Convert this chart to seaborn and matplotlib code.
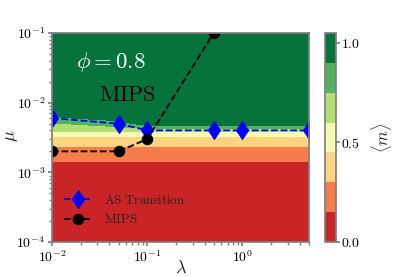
import numpy as np
import matplotlib
matplotlib.use("Agg")
import matplotlib.pyplot as plt
import matplotlib.ticker as mticker
import seaborn as sns

# grid of the order parameter <m> over (lambda, mu)
lam_grid = [0.01, 0.05, 0.1, 0.5, 1.0, 5.0]
mu_grid = [1e-4, 1e-3, 2e-3, 3e-3, 4e-3, 5e-3, 6e-3, 1e-2, 1e-1]
m_lam001 = [0.02, 0.08, 0.25, 0.40, 0.65, 0.74, 0.89, 1.0, 1.0]
m_lam005 = [0.02, 0.08, 0.25, 0.40, 0.65, 0.85, 0.95, 1.0, 1.0]
m_lam01 = [0.02, 0.08, 0.25, 0.40, 0.65, 0.98, 1.0, 1.0, 1.0]
m_lam05 = [0.02, 0.08, 0.25, 0.40, 0.65, 0.98, 1.0, 1.0, 1.0]
m_lam1 = [0.02, 0.08, 0.25, 0.40, 0.65, 0.98, 1.0, 1.0, 1.0]
m_lam5 = [0.02, 0.08, 0.25, 0.40, 0.65, 0.98, 1.0, 1.0, 1.0]

# transition lines
as_lam = [0.01, 0.05, 0.1, 0.5, 1.0, 5.0]
as_mu = [0.006, 0.005, 0.004, 0.004, 0.004, 0.004]
mips_lam = [0.01, 0.05, 0.1, 0.5]
mips_mu = [0.002, 0.002, 0.003, 0.1]

sns.set_theme(style="ticks")
plt.rcParams["mathtext.fontset"] = "cm"
plt.rcParams["font.family"] = ["DejaVu Serif"]

fig = plt.figure(figsize=(4.15, 2.77), dpi=100)
ax = fig.add_axes([0.1253, 0.1264, 0.6193, 0.7545])
cax = fig.add_axes([0.783, 0.1264, 0.0265, 0.7545])

M = np.array([m_lam001, m_lam005, m_lam01, m_lam05, m_lam1, m_lam5]).T
L, U = np.meshgrid(lam_grid, mu_grid)
levels = np.linspace(0, 1.05, 8)
cf = ax.contourf(L, U, M, levels=levels, cmap="RdYlGn", vmin=0, vmax=1.0)

sns.lineplot(x=as_lam, y=as_mu, ax=ax, color="blue", linestyle="--", lw=1.3,
             marker="d", ms=9.5, mec="blue", label=r"$\mathrm{AS\ Transition}$")
sns.lineplot(x=mips_lam, y=mips_mu, ax=ax, color="black", linestyle="--", lw=1.3,
             marker="o", ms=7.5, mec="black", label=r"$\mathrm{MIPS}$")

ax.set_xscale("log")
ax.set_yscale("log")
ax.set_xlim(0.01, 5)
ax.set_ylim(1e-4, 1e-1)

fmt = mticker.FuncFormatter(lambda v, p: r"$10^{%d}$" % round(np.log10(v)))
ax.xaxis.set_major_formatter(fmt)
ax.yaxis.set_major_formatter(fmt)
ax.tick_params(which="both", colors="gray", labelcolor="black", labelsize=10, pad=2)
ax.tick_params(which="major", length=3)
ax.tick_params(which="minor", length=2)
for s in ax.spines.values():
    s.set_color("gray")

ax.set_xlabel(r"$\lambda$", fontsize=13)
ax.set_ylabel(r"$\mu$", fontsize=13)
ax.xaxis.set_label_coords(0.5, -0.08)
ax.yaxis.set_label_coords(-0.125, 0.51)

ax.text(0.23, 0.861, r"$\phi = 0.8$", transform=ax.transAxes, color="white",
        fontsize=16.5, ha="center", va="center")
ax.text(0.292, 0.703, r"$\mathrm{MIPS}$", transform=ax.transAxes, color="black",
        fontsize=16, ha="center", va="center")

ax.legend(loc="lower left", bbox_to_anchor=(0.0, 0.02), frameon=False,
          fontsize=9.3, handlelength=2.2, handletextpad=0.9, labelspacing=0.5)

cb = fig.colorbar(cf, cax=cax, ticks=[0.0, 0.5, 1.0])
cb.ax.yaxis.set_major_formatter(mticker.FixedFormatter([r"$0.0$", r"$0.5$", r"$1.0$"]))
cb.outline.set_edgecolor("gray")
cb.ax.tick_params(colors="gray", labelcolor="black", labelsize=10, length=3, pad=1)
cb.set_label(r"$\langle m \rangle$", fontsize=12, labelpad=6)

fig.savefig("out.png", dpi=100)
